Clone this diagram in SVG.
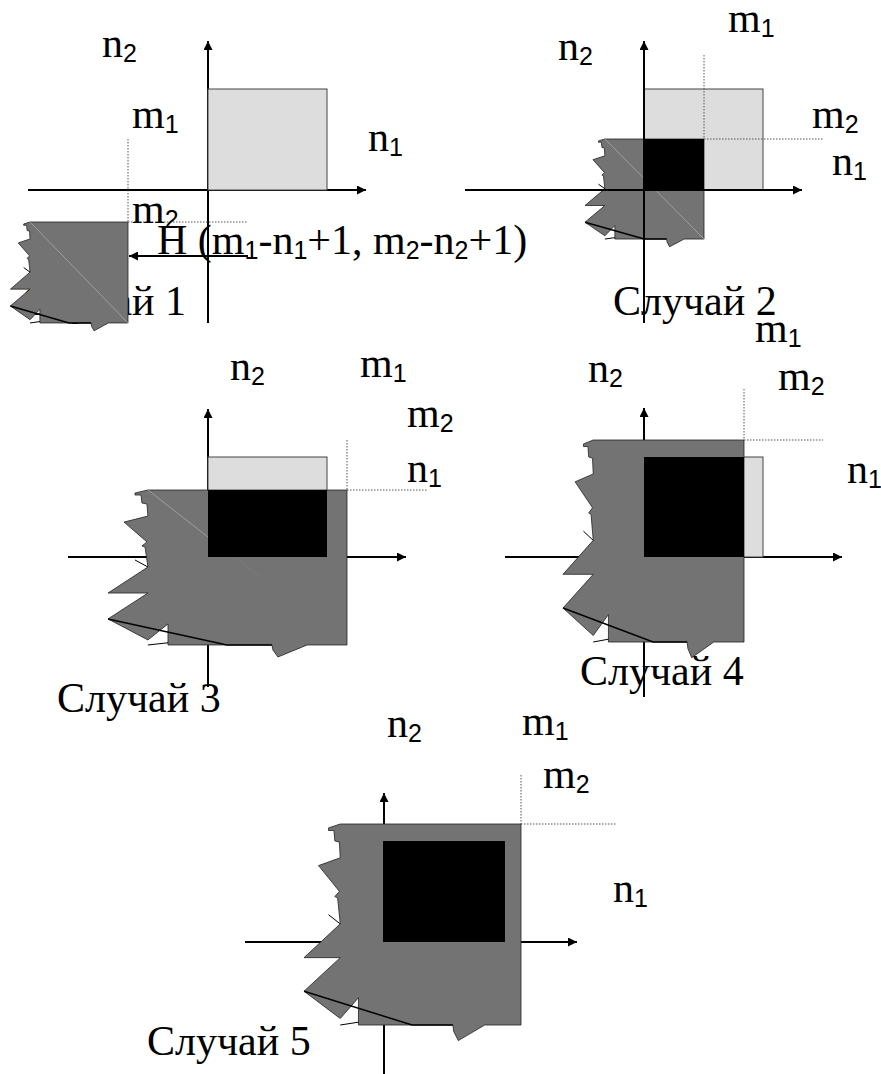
<svg xmlns="http://www.w3.org/2000/svg" xmlns:xlink="http://www.w3.org/1999/xlink" width="881" height="1074" viewBox="0 0 881 1074">
<style>
.t{font-family:"Liberation Serif","Times New Roman",serif;font-size:42px;fill:#000}
.s{font-family:"Liberation Sans",Arial,sans-serif;font-size:25px}
.ax{stroke:#000;stroke-width:2;fill:none}
.dot{stroke:#555;stroke-width:1;stroke-dasharray:1.5 1.5;fill:none}
.light{fill:#dddddd;stroke:#444;stroke-width:1}
.blk{fill:#000}
.diag{stroke:#a8a8a8;stroke-width:0.8}
.ns{vector-effect:non-scaling-stroke}
</style>
<defs>
<marker id="arr" viewBox="0 0 10 10" refX="10" refY="5" markerUnits="userSpaceOnUse" markerWidth="11" markerHeight="9" orient="auto">
<path d="M0,0 L10,5 L0,10 z" fill="#000"/>
</marker>
<g id="torn">
<polygon class="ns" points="167,0 1000,0 1000,928 833,928 711,1000 690,958 686,928 251,928 251,802 167,898 0,772 167,617 0,617 167,461 155,341 142,335 163,311 67,192 167,156 163,84 142,78 138,30 113,30 113,18" fill="#737373" stroke="#222" stroke-width="0.8"/>
<polyline class="ns" points="0,772 498,928 686,928" fill="none" stroke="#000" stroke-width="1.5"/>
<line class="ns" x1="167" y1="928" x2="251" y2="915" stroke="#000" stroke-width="1"/>
<line class="ns" x1="113" y1="419" x2="167" y2="461" stroke="#000" stroke-width="1"/>
</g>
</defs>
<rect width="881" height="1074" fill="#fff"/>

<g id="case1">
<text class="t" x="186" y="315" text-anchor="end">Случай 1</text>
<g id="case1-axes">
<line class="ax" x1="208" y1="323" x2="208" y2="41" marker-end="url(#arr)"/>
<line class="ax" x1="28" y1="190" x2="366" y2="190" marker-end="url(#arr)"/>
</g>
<rect class="light" x="208" y="89" width="119" height="101"/>
<use xlink:href="#torn" href="#torn" transform="translate(10.4,222) scale(0.1176,0.1088)"/>
<line class="diag" x1="30" y1="222" x2="128" y2="323"/>
<line class="dot" x1="128" y1="139" x2="128" y2="222"/>
<line class="dot" x1="128" y1="222" x2="248" y2="222"/>
<line class="ax" x1="248" y1="256" x2="129" y2="256" marker-end="url(#arr)"/>
<text class="t" x="102" y="57">n<tspan class="s" dy="5">2</tspan></text>
<text class="t" x="132" y="128">m<tspan class="s" dy="5">1</tspan></text>
<text class="t" x="368" y="151">n<tspan class="s" dy="5">1</tspan></text>
<text class="t" x="132" y="223">m<tspan class="s" dy="5">2</tspan></text>
<text class="t" x="157" y="254">H (m<tspan class="s" dy="5">1</tspan><tspan dy="-5">-n</tspan><tspan class="s" dy="5">1</tspan><tspan dy="-5">+1, m</tspan><tspan class="s" dy="5">2</tspan><tspan dy="-5">-n</tspan><tspan class="s" dy="5">2</tspan><tspan dy="-5">+1)</tspan></text>
</g>

<g id="case2">
<rect class="light" x="644" y="89" width="119" height="101"/>
<use xlink:href="#torn" href="#torn" transform="translate(585,139) scale(0.119,0.1078)"/>
<line class="diag" x1="605" y1="139" x2="704" y2="239"/>
<rect class="blk" x="644" y="139" width="60" height="51"/>
<g id="case2-axes">
<line class="ax" x1="644" y1="323" x2="644" y2="41" marker-end="url(#arr)"/>
<line class="ax" x1="465" y1="190" x2="802" y2="190" marker-end="url(#arr)"/>
</g>
<line class="dot" x1="704" y1="55" x2="704" y2="139"/>
<line class="dot" x1="704" y1="139" x2="823" y2="139"/>
<text class="t" x="728" y="32">m<tspan class="s" dy="5">1</tspan></text>
<text class="t" x="558" y="60">n<tspan class="s" dy="5">2</tspan></text>
<text class="t" x="812" y="128">m<tspan class="s" dy="5">2</tspan></text>
<text class="t" x="832" y="175">n<tspan class="s" dy="5">1</tspan></text>
<text class="t" x="613" y="315">Случай 2</text>
</g>

<g id="case3">
<g id="case3-axes">
<line class="ax" x1="208" y1="687" x2="208" y2="409" marker-end="url(#arr)"/>
<line class="ax" x1="68" y1="557" x2="406" y2="557" marker-end="url(#arr)"/>
</g>
<rect class="light" x="208" y="457" width="119" height="100"/>
<use xlink:href="#torn" href="#torn" transform="translate(108,490) scale(0.239,0.167)"/>
<line class="diag" x1="148" y1="490" x2="208" y2="537"/>
<line x1="208" y1="537" x2="262" y2="578" stroke="#7c7c7c" stroke-width="0.8"/>
<rect class="blk" x="208" y="490" width="119" height="67"/>
<line class="dot" x1="347" y1="440" x2="347" y2="490"/>
<line class="dot" x1="347" y1="490" x2="427" y2="490"/>
<text class="t" x="230" y="380">n<tspan class="s" dy="5">2</tspan></text>
<text class="t" x="360" y="377">m<tspan class="s" dy="5">1</tspan></text>
<text class="t" x="407" y="427">m<tspan class="s" dy="5">2</tspan></text>
<text class="t" x="407" y="482">n<tspan class="s" dy="5">1</tspan></text>
<text class="t" x="57" y="712">Случай 3</text>
</g>

<g id="case4">
<g id="case4-axes">
<line class="ax" x1="644" y1="697" x2="644" y2="408" marker-end="url(#arr)"/>
<line class="ax" x1="505" y1="557" x2="842" y2="557" marker-end="url(#arr)"/>
</g>
<rect class="light" x="644" y="457" width="119" height="100"/>
<use xlink:href="#torn" href="#torn" transform="translate(563,440) scale(0.181,0.2177)"/>
<rect class="blk" x="644" y="457" width="100" height="100"/>
<line class="dot" x1="744" y1="389" x2="744" y2="440"/>
<line class="dot" x1="744" y1="440" x2="823" y2="440"/>
<text class="t" x="755" y="342">m<tspan class="s" dy="5">1</tspan></text>
<text class="t" x="588" y="382">n<tspan class="s" dy="5">2</tspan></text>
<text class="t" x="778" y="390">m<tspan class="s" dy="5">2</tspan></text>
<text class="t" x="847" y="483">n<tspan class="s" dy="5">1</tspan></text>
<text class="t" x="580" y="685">Случай 4</text>
</g>

<g id="case5">
<g id="case5-axes">
<line class="ax" x1="384" y1="1074" x2="384" y2="793" marker-end="url(#arr)"/>
<line class="ax" x1="245" y1="942" x2="577" y2="942" marker-end="url(#arr)"/>
</g>
<use xlink:href="#torn" href="#torn" transform="translate(304,824) scale(0.217,0.2166)"/>
<rect class="blk" x="383" y="841" width="122" height="101"/>
<line class="dot" x1="521" y1="775" x2="521" y2="824"/>
<line class="dot" x1="521" y1="824" x2="617" y2="824"/>
<text class="t" x="387" y="737">n<tspan class="s" dy="5">2</tspan></text>
<text class="t" x="522" y="735">m<tspan class="s" dy="5">1</tspan></text>
<text class="t" x="543" y="788">m<tspan class="s" dy="5">2</tspan></text>
<text class="t" x="613" y="902">n<tspan class="s" dy="5">1</tspan></text>
<text class="t" x="147" y="1055">Случай 5</text>
</g>
</svg>
